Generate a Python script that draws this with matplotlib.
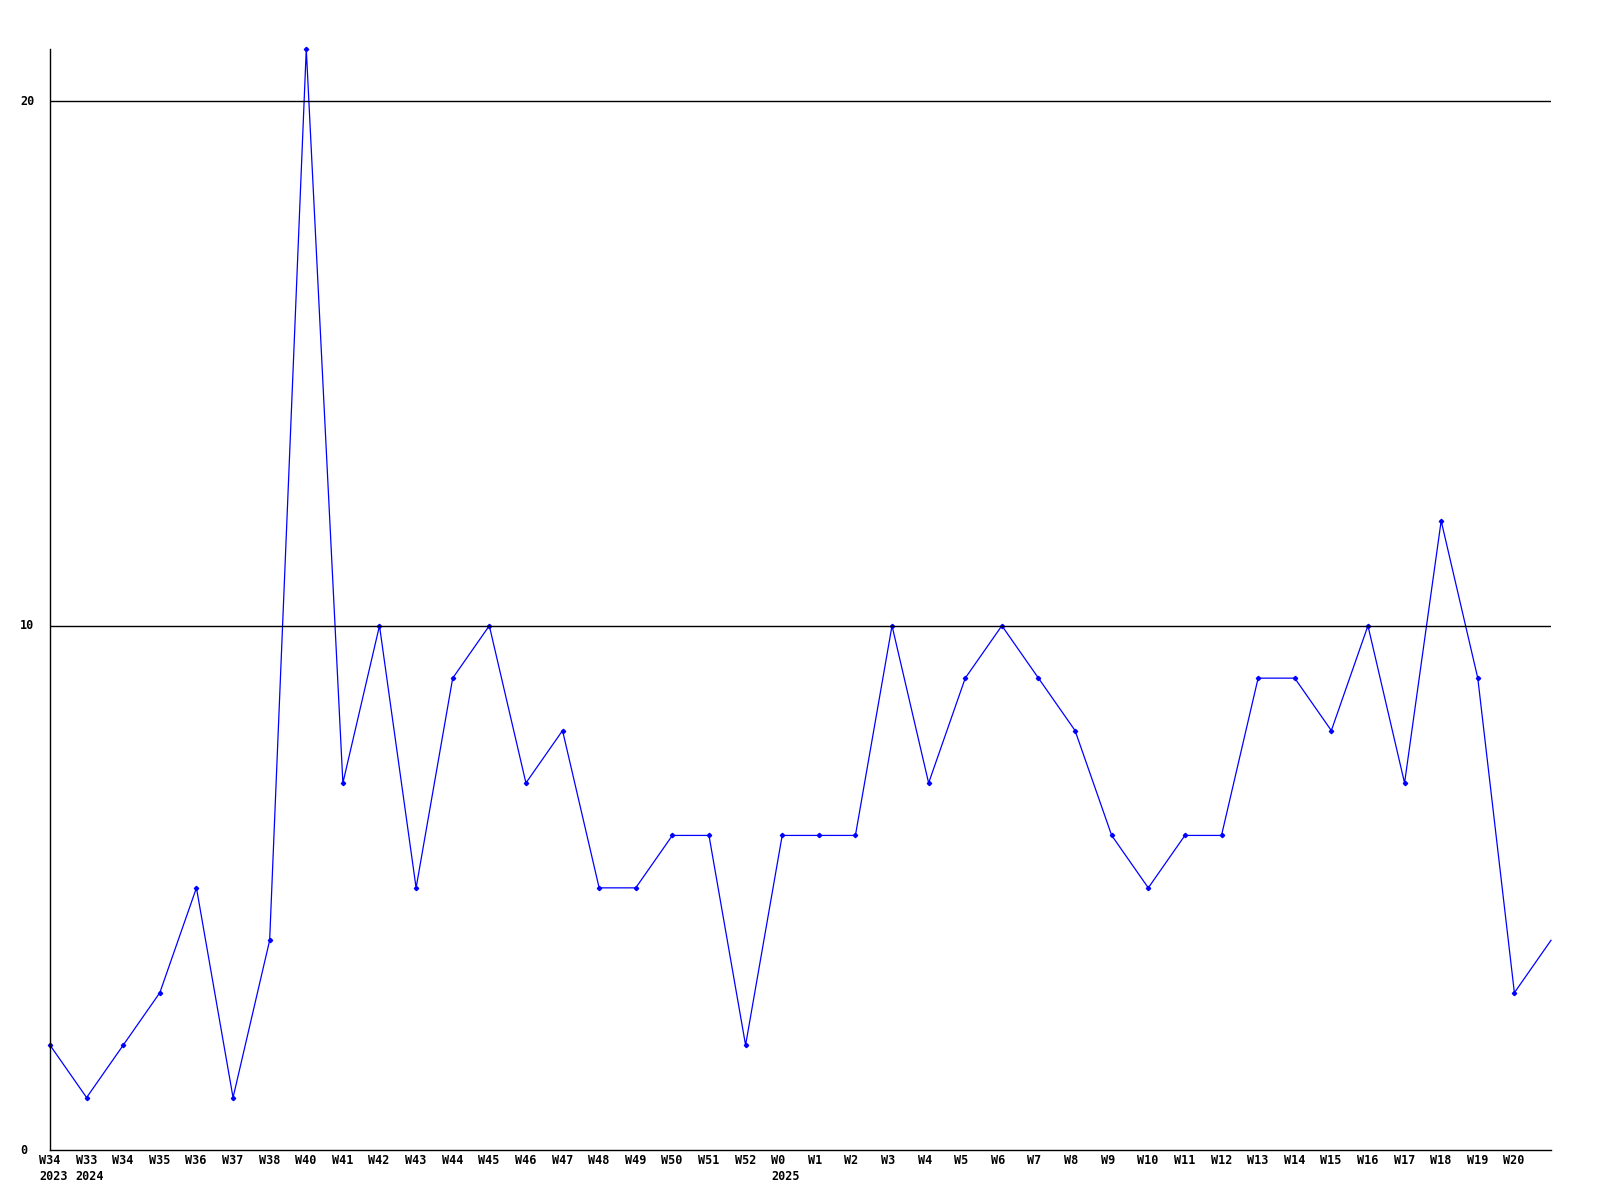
import matplotlib
matplotlib.use('Agg')
import matplotlib.pyplot as plt
from matplotlib.transforms import ScaledTranslation

# weekly values, last point runs off the right edge
weeks = ['W34', 'W33', 'W34', 'W35', 'W36', 'W37', 'W38', 'W40', 'W41', 'W42',
         'W43', 'W44', 'W45', 'W46', 'W47', 'W48', 'W49', 'W50', 'W51', 'W52',
         'W0', 'W1', 'W2', 'W3', 'W4', 'W5', 'W6', 'W7', 'W8', 'W9',
         'W10', 'W11', 'W12', 'W13', 'W14', 'W15', 'W16', 'W17', 'W18', 'W19', 'W20']
years = {0: '2023', 1: '2024', 20: '2025'}
values = [2, 1, 2, 3, 5, 1, 4, 21, 7, 10,
          5, 9, 10, 7, 8, 5, 5, 6, 6, 2,
          6, 6, 6, 10, 7, 9, 10, 9, 8, 6,
          5, 6, 6, 9, 9, 8, 10, 7, 12, 9, 3, 4]

fig = plt.figure(figsize=(16, 12), dpi=100)
ax = fig.add_axes([50/1600, 1 - 1150/1200, 1501/1600, 1101/1200])

x = list(range(len(values)))
ax.plot(x, values, color='#0000ff', lw=0.9, marker='D', ms=2.2,
        markevery=list(range(len(weeks))), clip_on=False)
ax.set_xlim(0, len(values) - 1)
ax.set_ylim(0, 21)

for y in [10, 20]:
    ax.axhline(y, color='black', lw=1)

for s in ['top', 'right']:
    ax.spines[s].set_visible(False)
for s in ['left', 'bottom']:
    ax.spines[s].set_linewidth(1)

font = dict(family='DejaVu Sans Mono', weight='bold', size=8.5)
ax.set_yticks([])
ax.set_xticks([])
for y in [0, 10, 20]:
    ax.text(-30/1501, y, str(y), transform=ax.get_yaxis_transform(),
            ha='left', va='center', **font)

px = fig.dpi_scale_trans
for i, w in enumerate(weeks):
    tr = ax.get_xaxis_transform() + ScaledTranslation(-11/100, -11/100, px)
    ax.text(i, 0, w, transform=tr, ha='left', va='center', **font)
    if i in years:
        tr2 = ax.get_xaxis_transform() + ScaledTranslation(-11/100, -26/100, px)
        ax.text(i, 0, years[i], transform=tr2, ha='left', va='center', **font)

fig.savefig('out.png', dpi=100)
